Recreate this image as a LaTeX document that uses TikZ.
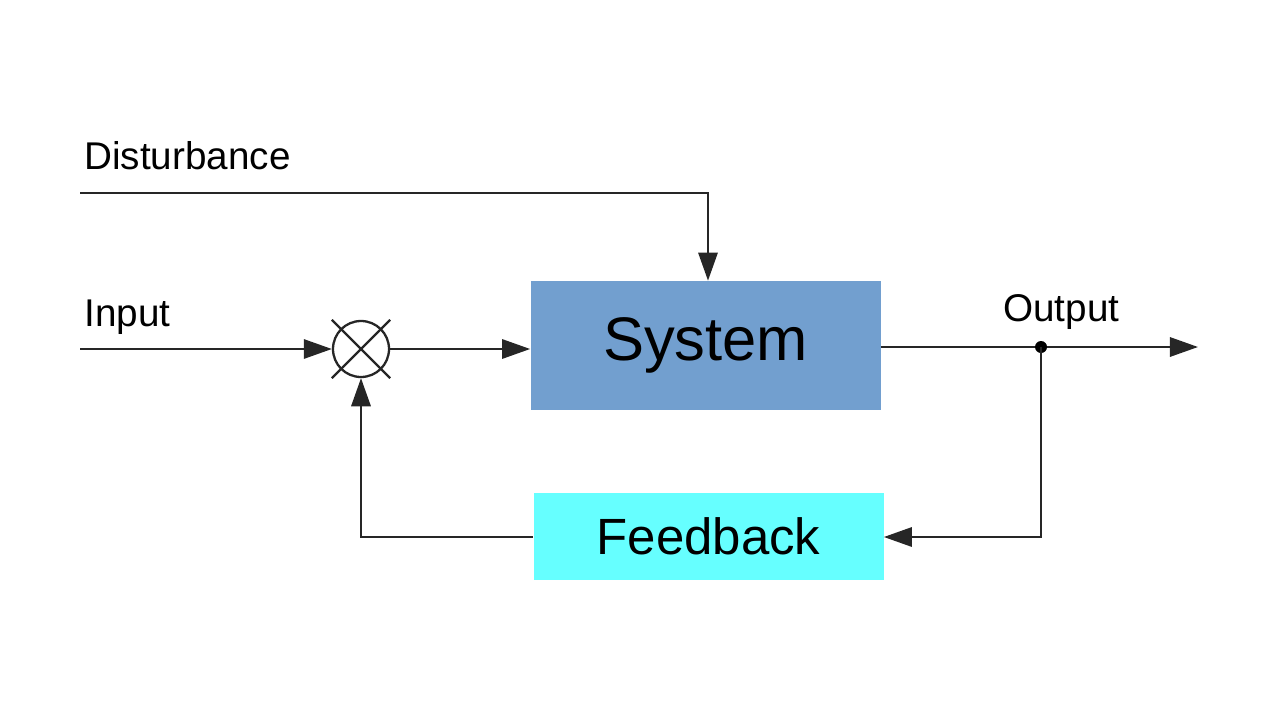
\documentclass[tikz,border=0pt]{standalone}
\usepackage{fontspec}
\setmainfont{Liberation Sans}
\usetikzlibrary{arrows.meta,shapes.misc}
\begin{document}
\begin{tikzpicture}[x=0.02cm,y=-0.02cm,
  line/.style={line width=1.3pt,black!85},
  arr/.style={line,-{Triangle[length=16pt,width=11pt]}},
  lbl/.style={font=\fontsize{22}{24}\selectfont,anchor=base west,inner sep=0},
  box/.style={minimum width=350*0.02cm,inner sep=0}]
\useasboundingbox (0,0) rectangle (1280,720);
\node[box,fill={rgb,255:red,114;green,159;blue,207},minimum height=129*0.02cm,font=\fontsize{35}{38}\selectfont] (sys) at (705.5,345.5) {System};
\node[box,fill={rgb,255:red,102;green,255;blue,255},minimum height=87*0.02cm,font=\fontsize{29}{32}\selectfont] (fb) at (708.5,536.5) {Feedback};
\node[draw,line,circle,cross out,minimum size=56*0.02cm] (sum) at (361,349) {};
\node[draw,line,circle,minimum size=56*0.02cm] at (361,349) {};
\node[lbl] (dist) at (84,169) {Disturbance};
\node[lbl] (inp) at (84,326) {Input};
\node[lbl] (outl) at (1003,321) {Output};
\coordinate (d0) at (80,193);
\coordinate (d1) at (708,193);
\coordinate (i0) at (80,349);
\coordinate (oend) at (1198,347);
\coordinate (br) at (1041,347);
\coordinate (fbr) at (1041,537);
\coordinate (fbl) at (361,537);
\draw[arr] (d0) -- (d1) -- (sys.north -| d1);
\draw[arr] (i0) -- (sum.west);
\draw[arr] (sum.east) -- (sys.west |- sum);
\draw[arr] (sys.east |- br) -- (oend);
\fill (br) circle (6);
\draw[arr] (br) -- (fbr) -- (fb.east |- fbr);
\draw[arr] (fb.west |- fbl) -- (fbl) -- (sum.south);
\end{tikzpicture}
\end{document}
